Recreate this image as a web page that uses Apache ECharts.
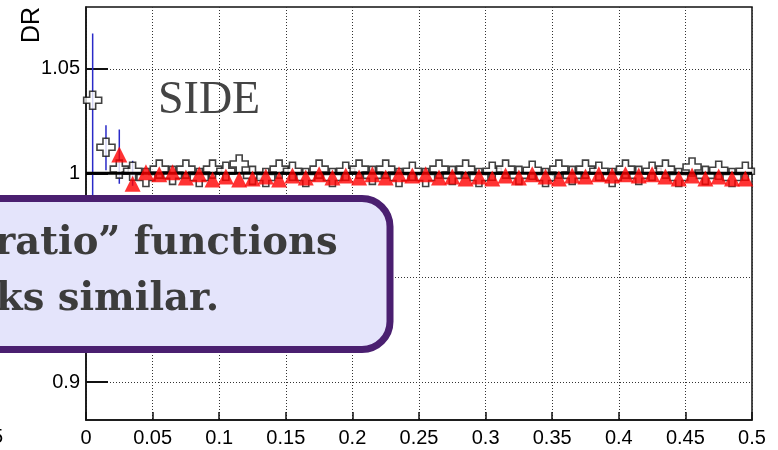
<!DOCTYPE html>
<html>
<head>
<meta charset="utf-8">
<script src="https://cdn.jsdelivr.net/npm/echarts@6/dist/echarts.min.js"></script>
<style>
  html, body { margin: 0; padding: 0; background: #fff; }
  #chart { width: 778px; height: 450px; }
</style>
</head>
<body>
<div id="chart"></div>
<script>
// bin centres, width 0.01
const binX = [0.005, 0.015, 0.025, 0.035, 0.045, 0.055, 0.065, 0.075, 0.085, 0.095,
  0.105, 0.115, 0.125, 0.135, 0.145, 0.155, 0.165, 0.175, 0.185, 0.195,
  0.205, 0.215, 0.225, 0.235, 0.245, 0.255, 0.265, 0.275, 0.285, 0.295,
  0.305, 0.315, 0.325, 0.335, 0.345, 0.355, 0.365, 0.375, 0.385, 0.395,
  0.405, 0.415, 0.425, 0.435, 0.445, 0.455, 0.465, 0.475, 0.485, 0.495];

// open crosses
const crossY = [1.035, 1.0125, 1.002, 1.001, 0.998, 1.002, 0.999, 1.002, 0.998, 1.002,
  1.001, 1.0045, 0.999, 0.998, 1.002, 1.001, 0.998, 1.002, 0.998, 1.001,
  1.002, 0.999, 1.002, 0.998, 1.001, 0.998, 1.002, 0.999, 1.002, 0.998,
  1.001, 1.002, 0.999, 1.0015, 0.998, 1.002, 0.999, 1.002, 1.001, 0.998,
  1.002, 0.999, 1.001, 1.002, 0.998, 1.003, 0.999, 1.0015, 0.998, 1.001];

// red triangles (start at third bin)
const triX = binX.slice(2);
const triY = [1.009, 0.995, 1.0005, 0.9995, 1.0005, 0.998, 0.9995, 0.997,
  0.9985, 0.997, 0.9975, 0.9985, 0.997, 0.999, 0.998, 0.9995, 0.998, 0.999,
  0.998, 0.9995, 0.998, 0.9995, 0.999, 0.9995, 0.998, 0.9985, 0.9975, 0.9985,
  0.9975, 0.999, 0.998, 0.9995, 0.9985, 0.9975, 0.999, 0.9985, 0.9995, 0.999,
  0.9995, 0.999, 0.9995, 0.9985, 0.9975, 0.999, 0.9975, 0.9985, 0.9975, 0.9975];

// blue error bars on the first bins
const errX = [0.005, 0.015, 0.025, 0.035];
const errLo = [0.97, 1.0015, 0.995, 0.994];
const errHi = [1.067, 1.023, 1.021, 1.006];

// reference line at 1
const refX = [0, 0.5];
const refY = [1, 1];

const yTicks = [0.9, 0.95, 1, 1.05];

const chart = echarts.init(document.getElementById('chart'));
const tickFont = { fontFamily: 'Liberation Sans', fontSize: 20, color: '#000' };
const serif = 'DejaVu Serif';

const option = {
  animation: false,
  backgroundColor: '#fff',
  grid: {
    left: 86, right: 26, top: 7, bottom: 30,
    show: true, borderColor: '#111', borderWidth: 1.5, backgroundColor: 'transparent'
  },
  xAxis: {
    type: 'value',
    min: 0, max: 0.5, interval: 0.05,
    axisLine: { show: true, onZero: false, lineStyle: { color: '#111', width: 1.5 } },
    axisTick: { show: true, inside: true, length: 8, lineStyle: { color: '#111', width: 1.5 } },
    axisLabel: Object.assign({ margin: 8, formatter: (v) => String(+v.toFixed(2)) }, tickFont),
    splitLine: { show: true, lineStyle: { color: '#333', type: [1, 2], width: 1 } }
  },
  yAxis: {
    type: 'value',
    min: 0.8818, max: 1.0797,
    axisLine: { show: true, onZero: false, lineStyle: { color: '#111', width: 1.5 } },
    axisTick: { show: true, inside: true, length: 22, customValues: yTicks, lineStyle: { color: '#111', width: 2 } },
    axisLabel: Object.assign({ margin: 6, customValues: yTicks, formatter: (v) => String(+v.toFixed(2)) }, tickFont),
    splitLine: { show: true, lineStyle: { color: '#333', type: [1, 2], width: 1 } }
  },
  series: [
    {
      name: 'err',
      type: 'custom',
      z: 2,
      data: errX.map((x, i) => [x, errLo[i], errHi[i]]),
      renderItem: (params, api) => {
        const p1 = api.coord([api.value(0), api.value(1)]);
        const p2 = api.coord([api.value(0), api.value(2)]);
        return {
          type: 'line',
          shape: { x1: p1[0], y1: p1[1], x2: p2[0], y2: p2[1] },
          style: { stroke: '#2a2ac8', lineWidth: 1.5 }
        };
      }
    },
    {
      name: 'cross',
      type: 'scatter',
      z: 3,
      symbol: 'path://M4,0H8V4H12V8H8V12H4V8H0V4H4Z',
      symbolSize: 18,
      itemStyle: { color: '#fff', borderColor: '#111', borderWidth: 1.6 },
      data: binX.map((x, i) => [x, crossY[i]])
    },
    {
      name: 'ref',
      type: 'line',
      z: 4,
      symbol: 'none',
      lineStyle: { color: '#000', width: 3 },
      data: refX.map((x, i) => [x, refY[i]])
    },
    {
      name: 'tri',
      type: 'scatter',
      z: 5,
      symbol: 'triangle',
      symbolSize: [16, 16],
      itemStyle: { color: '#ff0000' },
      data: triX.map((x, i) => [x, triY[i]])
    }
  ],
  graphic: [
    {
      type: 'text', left: 20, top: 7, rotation: Math.PI / 2, z: 50,
      style: { text: 'DR', font: '25px "Liberation Sans"', fill: '#000' }
    },
    {
      type: 'text', left: 158, top: 78, z: 50,
      style: { text: 'SIDE', font: '46px "Liberation Serif"', fill: '#444' }
    },
    {
      type: 'text', left: -8, top: 427, z: 50,
      style: { text: '5', font: '20px "Liberation Sans"', fill: '#000' }
    },
    {
      type: 'rect', z: 100,
      shape: { x: -40, y: 198.5, width: 430, height: 151, r: 28 },
      style: { fill: '#e4e4fb', stroke: '#4a1f70', lineWidth: 7 }
    },
    {
      type: 'text', z: 101, left: -5, top: 224,
      style: { text: 'ratio\u201d functions', font: 'bold 38.5px "' + serif + '"', fill: '#3c3c3c' }
    },
    {
      type: 'text', z: 101, left: -4, top: 280,
      style: { text: 'ks similar.', font: 'bold 38.5px "' + serif + '"', fill: '#3c3c3c' }
    }
  ]
};
chart.setOption(option);
</script>
</body>
</html>
